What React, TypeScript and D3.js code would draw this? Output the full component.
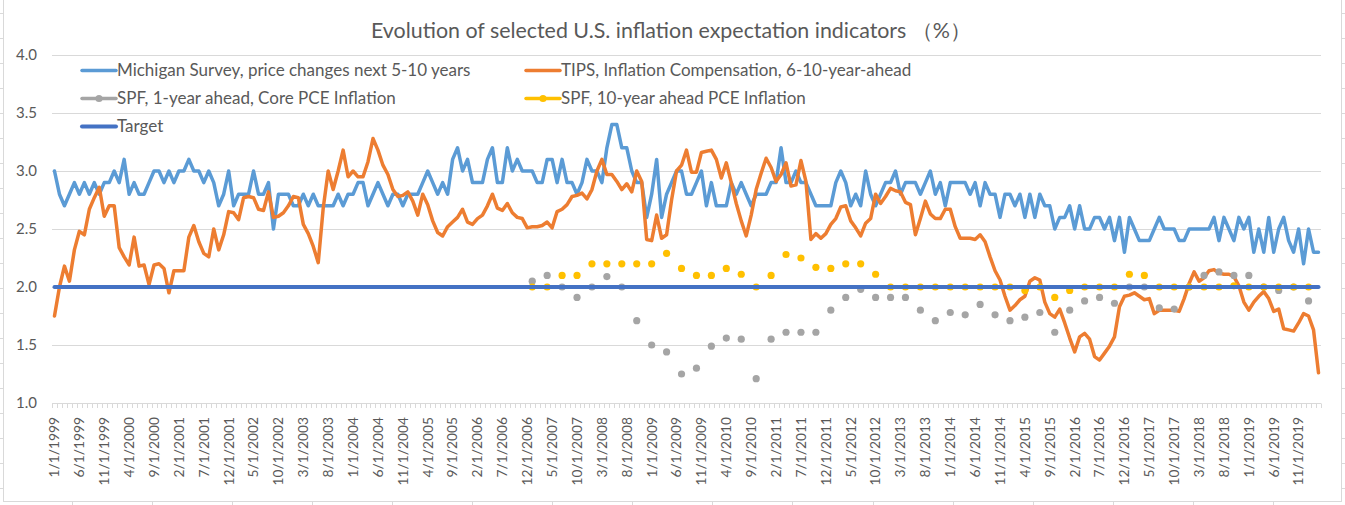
import React from "react";
import * as d3 from "d3";

// Monthly categories: 1/1999 .. 3/2020
const monthStart = new Date(1999, 0, 1);
const monthEnd = new Date(2020, 3, 1); // exclusive

// Michigan Survey, price changes next 5-10 years (monthly)
const michigan: number[] = [
  3.0, 2.8, 2.7, 2.8, 2.9, 2.8, 2.9, 2.8, 2.9, 2.8, 2.9, 2.9, 3.0, 2.9, 3.1, 2.8, 2.9, 2.8, 2.8, 2.9, 3.0, 3.0, 2.9, 3.0, 2.9, 3.0, 3.0, 3.1, 3.0, 3.0, 2.9, 3.0, 2.9, 2.7, 2.8, 3.0, 2.7,
  2.8, 2.8, 2.8, 3.0, 2.8, 2.8, 2.9, 2.5, 2.8, 2.8, 2.8, 2.7, 2.7, 2.8, 2.7, 2.8, 2.7, 2.7, 2.7, 2.7, 2.8, 2.7, 2.8, 2.8, 2.9, 2.9, 2.7, 2.8, 2.9, 2.8, 2.7, 2.8, 2.8, 2.7, 2.8, 2.8,
  2.8, 2.9, 3.0, 2.9, 2.8, 2.9, 2.8, 3.1, 3.2, 3.0, 3.1, 2.9, 2.9, 2.9, 3.1, 3.2, 2.9, 2.9, 3.2, 3.0, 3.1, 3.0, 3.0, 3.0, 2.9, 2.9, 3.1, 3.1, 2.9, 3.1, 2.9, 2.9, 2.8, 2.9, 3.1, 3.0, 3.0,
  2.9, 3.2, 3.4, 3.4, 3.2, 3.2, 3.0, 2.9, 2.9, 2.6, 2.8, 3.1, 2.6, 2.8, 2.9, 3.0, 3.0, 2.8, 2.8, 2.9, 3.0, 2.7, 2.9, 2.7, 2.7, 2.7, 2.9, 2.8, 2.9, 2.8, 2.7, 2.8, 2.8, 2.8, 2.9, 2.9,
  3.2, 2.9, 2.9, 3.0, 2.9, 2.9, 2.8, 2.7, 2.7, 2.7, 2.7, 2.9, 3.0, 2.9, 2.7, 2.8, 2.7, 3.0, 2.8, 2.7, 2.8, 2.9, 2.9, 3.0, 2.8, 2.9, 2.9, 2.9, 2.8, 2.9, 3.0, 2.8, 2.9, 2.7, 2.9, 2.9, 2.9,
  2.9, 2.8, 2.9, 2.7, 2.9, 2.8, 2.8, 2.6, 2.8, 2.8, 2.7, 2.8, 2.6, 2.8, 2.6, 2.8, 2.7, 2.7, 2.5, 2.6, 2.6, 2.7, 2.5, 2.7, 2.5, 2.5, 2.6, 2.6, 2.5, 2.6, 2.4, 2.6, 2.3, 2.6, 2.5, 2.4,
  2.4, 2.4, 2.5, 2.6, 2.5, 2.5, 2.5, 2.4, 2.4, 2.5, 2.5, 2.5, 2.5, 2.5, 2.6, 2.4, 2.6, 2.5, 2.4, 2.6, 2.5, 2.6, 2.3, 2.5, 2.3, 2.6, 2.3, 2.5, 2.6, 2.4, 2.3, 2.5, 2.2, 2.5, 2.3, 2.3,
];

// TIPS, Inflation Compensation, 6-10-year-ahead (monthly)
const tips: number[] = [
  1.75, 2.0, 2.18, 2.05, 2.32, 2.48, 2.45, 2.67, 2.77, 2.86, 2.61, 2.7, 2.7, 2.34, 2.26, 2.19, 2.43, 2.18, 2.19, 2.02, 2.19, 2.2, 2.16, 1.95, 2.14, 2.14, 2.14, 2.43, 2.53, 2.39, 2.29, 2.26, 2.5, 2.32, 2.45, 2.65, 2.64,
  2.58, 2.77, 2.78, 2.77, 2.67, 2.66, 2.82, 2.6, 2.61, 2.64, 2.7, 2.78, 2.77, 2.54, 2.46, 2.35, 2.21, 2.68, 3.0, 2.84, 3.0, 3.18, 2.95, 3.0, 2.95, 2.95, 3.08, 3.28, 3.18, 3.05, 2.97, 2.84, 2.78, 2.79, 2.82, 2.74,
  2.62, 2.8, 2.71, 2.57, 2.47, 2.44, 2.52, 2.56, 2.6, 2.67, 2.56, 2.54, 2.59, 2.62, 2.7, 2.8, 2.68, 2.66, 2.72, 2.64, 2.6, 2.59, 2.51, 2.52, 2.52, 2.53, 2.56, 2.51, 2.65, 2.67, 2.71, 2.78, 2.79, 2.81, 2.76, 2.84, 3.0,
  3.1, 2.97, 2.97, 2.91, 2.84, 2.89, 2.82, 3.0, 2.91, 2.41, 2.4, 2.62, 2.42, 2.45, 2.75, 3.0, 3.05, 3.18, 2.99, 2.99, 3.16, 3.17, 3.18, 3.1, 2.94, 3.07, 2.9, 2.72, 2.57, 2.44, 2.62, 2.84, 2.98, 3.11, 3.03, 2.91,
  2.97, 3.07, 2.87, 2.88, 3.09, 2.91, 2.41, 2.46, 2.42, 2.46, 2.54, 2.59, 2.69, 2.7, 2.57, 2.51, 2.44, 2.55, 2.59, 2.8, 2.72, 2.78, 2.85, 2.83, 2.82, 2.73, 2.71, 2.45, 2.59, 2.74, 2.63, 2.59, 2.59, 2.67, 2.67, 2.52, 2.42,
  2.42, 2.42, 2.41, 2.45, 2.39, 2.26, 2.14, 2.06, 1.92, 1.8, 1.84, 1.89, 1.92, 2.05, 2.08, 2.06, 1.87, 1.77, 1.74, 1.81, 1.69, 1.56, 1.44, 1.57, 1.6, 1.55, 1.4, 1.37, 1.43, 1.49, 1.57, 1.83, 1.92, 1.93, 1.95, 1.92,
  1.89, 1.9, 1.77, 1.8, 1.8, 1.8, 1.8, 1.79, 1.9, 2.03, 2.13, 2.05, 2.08, 2.14, 2.15, 2.12, 2.11, 2.11, 2.09, 2.01, 1.87, 1.8, 1.87, 1.92, 1.96, 1.9, 1.79, 1.81, 1.64, 1.63, 1.62, 1.69, 1.77, 1.75, 1.63, 1.26,
];

// SPF quarterly: 2007Q1 .. 2020Q1
const spfStart = new Date(2007, 0, 1);
const spfEnd = new Date(2020, 1, 1); // exclusive
const spfCore: number[] = [
  2.05, 2.1, 2.0, 1.91, 2.0, 2.09, 2.0, 1.71, 1.5, 1.44, 1.25, 1.3, 1.49, 1.56, 1.55, 1.21, 1.55, 1.61, 1.61, 1.61, 1.8, 1.91, 1.98, 1.91, 1.91, 1.91,
  1.8, 1.71, 1.78, 1.76, 1.85, 1.76, 1.71, 1.74, 1.78, 1.61, 1.8, 1.88, 1.91, 1.86, 2.0, 2.0, 1.82, 1.81, 2.0, 2.1, 2.13, 2.1, 2.1, 2.0, 1.97, 2.0, 1.88,
];
const spf10: number[] = [
  2.0, 2.0, 2.1, 2.1, 2.2, 2.2, 2.2, 2.2, 2.2, 2.29, 2.16, 2.1, 2.1, 2.16, 2.11, 2.0, 2.1, 2.28, 2.25, 2.17, 2.16, 2.2, 2.2, 2.11, 2.0, 2.0,
  2.0, 2.0, 2.0, 2.0, 2.0, 2.0, 2.0, 1.97, 2.0, 1.91, 1.97, 2.0, 2.0, 2.0, 2.11, 2.1, 2.0, 2.0, 2.0, 2.0, 2.0, 2.01, 2.0, 2.0, 2.0, 2.0, 2.0,
];
const targetValue = 2.0;

const yTicks = [1.0, 1.5, 2.0, 2.5, 3.0, 3.5, 4.0];
const labelEvery = 5;

const seriesNames = {
  michigan: "Michigan Survey, price changes next 5-10 years",
  tips: "TIPS, Inflation Compensation, 6-10-year-ahead",
  spfCore: "SPF, 1-year ahead, Core PCE Inflation",
  spf10: "SPF, 10-year ahead PCE Inflation",
  target: "Target",
};
const title = "Evolution of selected U.S. inflation expectation indicators （%）";

const C = {
  michigan: "#5B9BD5",
  tips: "#ED7D31",
  spfCore: "#A5A5A5",
  spf10: "#FFC000",
  target: "#4472C4",
  grid: "#D9D9D9",
  text: "#595959",
  sheet: "#DADADA",
};

const FONT = "Lato, 'Open Sans', sans-serif";

export default function App() {
  const W = 1345;
  const H = 505;
  const plot = { left: 52, right: 1321, top: 55, bottom: 403 };

  const months = d3.timeMonth.range(monthStart, monthEnd);
  const keys = months.map((d) => d3.timeFormat("%Y-%m")(d));
  const fmtLabel = (d: Date) => `${d.getMonth() + 1}/1/${d.getFullYear()}`;

  const x = d3.scalePoint<string>().domain(keys).range([plot.left, plot.right]).padding(0.5);
  const step = x.step();
  const y = d3.scaleLinear().domain([1, 4]).range([plot.bottom, plot.top]);

  const spfDates = d3.timeMonth.every(3)!.range(spfStart, spfEnd);
  const spfKeys = spfDates.map((d) => d3.timeFormat("%Y-%m")(d));

  const line = d3
    .line<number>()
    .x((_, i) => x(keys[i])!)
    .y((v) => y(v));

  const targetSeries = keys.map(() => targetValue);

  const sheetCols = d3.range(71.5, W, 80.1);
  const sheetRows = d3.range(13.5, H, 25);

  const legendRows = [70.5, 98.5, 126.5];
  const legendCols = [82, 526];
  const legendItems = [
    { key: "michigan", col: 0, row: 0, marker: false },
    { key: "tips", col: 1, row: 0, marker: false },
    { key: "spfCore", col: 0, row: 1, marker: true },
    { key: "spf10", col: 1, row: 1, marker: true },
    { key: "target", col: 0, row: 2, marker: false },
  ] as const;

  return (
    <svg
      width={W}
      height={H}
      style={{ position: "absolute", left: 0, top: 0, background: "#fff" }}
      fontFamily={FONT}
    >
      {/* worksheet cell gridlines outside chart area */}
      <g stroke={C.sheet} strokeWidth={1}>
        {sheetRows.map((r) => (
          <g key={"r" + r}>
            <line x1={0} x2={3} y1={r} y2={r} />
            <line x1={1342} x2={W} y1={r} y2={r} />
          </g>
        ))}
        {sheetCols.map((c) => (
          <line key={"c" + c} x1={Math.round(c) + 0.5} x2={Math.round(c) + 0.5} y1={502} y2={H} />
        ))}
      </g>
      {/* chart area */}
      <rect x={3.5} y={-5} width={1338} height={506.5} fill="#fff" stroke={C.grid} strokeWidth={1} />

      {/* title */}
      <text x={671} y={38} textAnchor="middle" fontSize={21.4} fill={C.text}>
        {title}
      </text>

      {/* gridlines */}
      <g>
        {yTicks.map((t) => (
          <line
            key={t}
            x1={plot.left}
            x2={plot.right}
            y1={Math.round(y(t)) + 0.5}
            y2={Math.round(y(t)) + 0.5}
            stroke={C.grid}
            strokeWidth={1}
          />
        ))}
        {d3.range(keys.length + 1).map((k) => {
          const xx = Math.round(plot.left + k * step) + 0.5;
          return (
            <line key={"tk" + k} x1={xx} x2={xx} y1={y(1) + 0.5} y2={y(1) + 5} stroke={C.grid} strokeWidth={1} />
          );
        })}
      </g>

      {/* y labels */}
      <g fontSize={15} fill={C.text}>
        {yTicks.map((t) => (
          <text key={t} x={37} y={y(t)} dy="0.35em" textAnchor="end">
            {t.toFixed(1)}
          </text>
        ))}
      </g>

      {/* x labels */}
      <g fontSize={13.8} fill={C.text}>
        {months.map((d, i) =>
          i % labelEvery === 0 ? (
            <text
              key={i}
              transform={`translate(${x(keys[i])},417) rotate(-90)`}
              dy="0.35em"
              textAnchor="end"
            >
              {fmtLabel(d)}
            </text>
          ) : null
        )}
      </g>

      {/* series */}
      <path d={line(michigan)!} fill="none" stroke={C.michigan} strokeWidth={3.5} strokeLinejoin="round" strokeLinecap="round" />
      <path d={line(tips)!} fill="none" stroke={C.tips} strokeWidth={3.5} strokeLinejoin="round" strokeLinecap="round" />
      <g fill={C.spfCore}>
        {spfCore.map((v, i) => (
          <circle key={i} cx={x(spfKeys[i])} cy={y(v)} r={3.6} />
        ))}
      </g>
      <g fill={C.spf10}>
        {spf10.map((v, i) => (
          <circle key={i} cx={x(spfKeys[i])} cy={y(v)} r={3.6} />
        ))}
      </g>
      <path d={line(targetSeries)!} fill="none" stroke={C.target} strokeWidth={4} strokeLinecap="round" />

      {/* legend */}
      <g fontSize={17} fill={C.text}>
        {legendItems.map((it) => {
          const lx = legendCols[it.col];
          const ly = legendRows[it.row];
          const color = (C as any)[it.key];
          return (
            <g key={it.key}>
              <line x1={lx} x2={lx + 34} y1={ly} y2={ly} stroke={color} strokeWidth={it.key === "target" ? 4 : 3.5} strokeLinecap="round" />
              {it.marker ? <circle cx={lx + 17} cy={ly} r={3.6} fill={color} /> : null}
              <text x={lx + 35} y={ly} dy="0.35em">
                {(seriesNames as any)[it.key]}
              </text>
            </g>
          );
        })}
      </g>
    </svg>
  );
}
